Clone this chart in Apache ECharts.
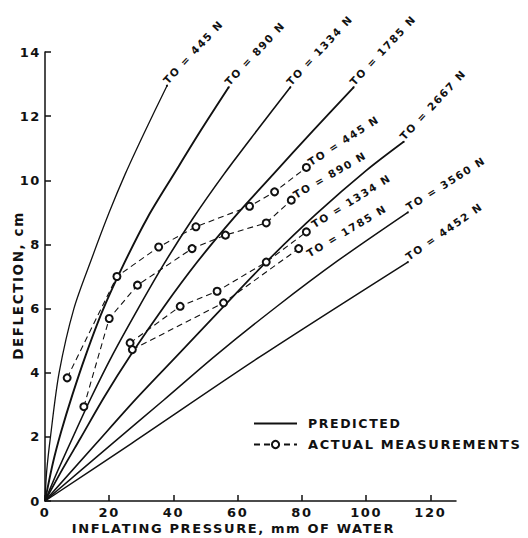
<!DOCTYPE html>
<html>
<head>
<meta charset="utf-8">
<script src="https://cdn.jsdelivr.net/npm/echarts@6/dist/echarts.min.js"></script>
<style>
html, body { margin: 0; padding: 0; background: #fff; }
#chart { width: 528px; height: 538px; }
#chart text { letter-spacing: 1.6px; }
</style>
</head>
<body>
<div id="chart"></div>
<script>
// predicted curves: inflating pressure (mm of water) -> deflection (cm)
var p445 = [0, 0.5, 1.7, 4.4, 9, 14.7, 20, 25, 31, 38]
var d445 = [0, 0.9, 2.0, 4.0, 6.0, 7.6, 9.0, 10.2, 11.5, 12.95]
var p890 = [0, 2.5, 5, 8.5, 12.7, 18, 24.6, 32, 40.5, 48.5, 57.2]
var d890 = [0, 1.2, 2.15, 3.3, 4.55, 5.95, 7.4, 8.85, 10.25, 11.55, 12.9]
var p1334 = [0, 4, 8.5, 14.5, 21, 29, 37.1, 46, 55.8, 66, 76.4]
var d1334 = [0, 0.95, 1.95, 3.25, 4.55, 6.0, 7.4, 8.8, 10.2, 11.55, 12.9]
var p1785 = [0, 5.5, 11, 18.5, 26.7, 37, 47.4, 59, 71.2, 83.5, 96.1]
var d1785 = [0, 1.0, 1.95, 3.25, 4.55, 6.05, 7.45, 8.85, 10.2, 11.55, 12.9]
var p2667 = [0, 16, 28.5, 41.3, 55, 69.4, 84.5, 100, 111.7]
var d2667 = [0, 1.8, 3.2, 4.55, 6.0, 7.5, 8.95, 10.3, 11.2]
var p3560 = [0, 20.5, 37, 53.3, 72, 91.3, 113]
var d3560 = [0, 1.75, 3.15, 4.55, 6.05, 7.5, 9.0]
var p4452 = [0, 27, 67, 113]
var d4452 = [0, 1.8, 4.5, 7.45]

// actual measurements
var mp445 = [6.9, 22.4, 35.4, 47, 63.7, 71.5, 81.4]
var md445 = [3.84, 7.0, 7.92, 8.55, 9.19, 9.64, 10.4]
var mp890 = [12.1, 20, 28.8, 45.8, 56.2, 68.9, 76.7]
var md890 = [2.94, 5.69, 6.73, 7.87, 8.29, 8.67, 9.38]
var mp1334 = [26.5, 42.1, 53.6, 68.9, 81.4]
var md1334 = [4.93, 6.07, 6.54, 7.45, 8.39]
var mp1785 = [27.2, 55.6, 79]
var md1785 = [4.72, 6.18, 7.87]

var xTicks = [0, 20, 40, 60, 80, 100, 120]
var yTicks = [0, 2, 4, 6, 8, 10, 12, 14]

var font = 'DejaVu Sans'
var ink = '#111'

function pts (xs, ys) {
  return xs.map(function (x, i) { return [x, ys[i]] })
}

// label only on the last point of a curve
function withEndLabel (data, text, rot, off, hidden) {
  var last = data.length - 1
  return data.map(function (p, i) {
    if (i !== last) return p
    var item = {
      value: p,
      label: {
        show: true,
        formatter: text,
        position: 'right',
        distance: 1,
        rotate: rot,
        verticalAlign: 'bottom',
        offset: off,
        color: ink,
        fontFamily: font,
        fontWeight: 'bold',
        fontSize: 10.5
      }
    }
    if (hidden) {
      item.symbol = 'circle'
      item.symbolSize = 2
    }
    return item
  })
}

function predicted (xs, ys, text, rot, off, w) {
  return {
    name: 'PREDICTED',
    type: 'line',
    symbol: 'none',
    smooth: 0.3,
    z: 2,
    lineStyle: { color: ink, width: w },
    itemStyle: { color: ink },
    data: withEndLabel(pts(xs, ys), text, rot, off, true)
  }
}

function measured (xs, ys, text, rot, off) {
  return {
    name: 'ACTUAL MEASUREMENTS',
    type: 'line',
    symbol: 'emptyCircle',
    symbolSize: 7,
    z: 3,
    lineStyle: { color: ink, width: 1.1, type: [6, 4] },
    itemStyle: { color: ink, borderWidth: 1.2 },
    data: withEndLabel(pts(xs, ys), text, rot, off, false)
  }
}

var chart = echarts.init(document.getElementById('chart'), null, { renderer: 'svg' })

chart.setOption({
  animation: false,
  backgroundColor: '#fff',
  grid: { left: 45, right: 72, top: 52, bottom: 37, outerBoundsMode: 'none' },
  legend: {
    orient: 'vertical',
    left: 248,
    top: 412,
    itemWidth: 43,
    itemHeight: 9,
    itemGap: 8,
    selectedMode: false,
    data: [
      { name: 'PREDICTED', itemStyle: { opacity: 0 }, lineStyle: { width: 2 } },
      { name: 'ACTUAL MEASUREMENTS', textStyle: { fontSize: 13 } }
    ],
    textStyle: { color: ink, fontFamily: font, fontWeight: 'bold', fontSize: 12.5, padding: [0, 0, 0, 6] }
  },
  xAxis: {
    type: 'value',
    min: 0,
    max: 128,
    interval: 20,
    name: 'INFLATING PRESSURE, mm OF WATER',
    nameLocation: 'middle',
    nameGap: 21,
    nameMoveOverlap: false,
    nameTextStyle: { color: ink, fontFamily: font, fontWeight: 'bold', fontSize: 13, padding: [0, 34, 0, 0] },
    axisLine: { lineStyle: { color: ink, width: 1.5 } },
    axisTick: { inside: true, length: 6, customValues: xTicks, lineStyle: { color: ink, width: 1.5 } },
    axisLabel: { customValues: xTicks, color: ink, fontFamily: font, fontWeight: 'bold', fontSize: 13, margin: 5 },
    splitLine: { show: false }
  },
  yAxis: {
    type: 'value',
    min: 0,
    max: 14,
    interval: 2,
    name: 'DEFLECTION, cm',
    nameLocation: 'middle',
    nameRotate: 90,
    nameGap: 20,
    nameMoveOverlap: false,
    nameTextStyle: { color: ink, fontFamily: font, fontWeight: 'bold', fontSize: 13.5, padding: [0, 18, 0, 0] },
    axisLine: { show: true, lineStyle: { color: ink, width: 1.5 } },
    axisTick: { show: true, inside: true, length: 6, customValues: yTicks, lineStyle: { color: ink, width: 1.5 } },
    axisLabel: { color: ink, fontFamily: font, fontWeight: 'bold', fontSize: 13, margin: 4 },
    splitLine: { show: false }
  },
  series: [
    predicted(p445, d445, 'TO = 445 N', 47, [0, 0], 1.3),
    predicted(p890, d890, 'TO = 890 N', 47, [0, 0], 1.9),
    predicted(p1334, d1334, 'TO = 1334 N', 47, [0, 0], 1.6),
    predicted(p1785, d1785, 'TO = 1785 N', 47, [0, 0], 1.8),
    predicted(p2667, d2667, 'TO = 2667 N', 47, [0, 0], 1.7),
    predicted(p3560, d3560, 'TO = 3560 N', 32, [0, 0], 1.5),
    predicted(p4452, d4452, 'TO = 4452 N', 35, [0, 0], 1.5),
    measured(mp445, md445, 'TO = 445 N', 33, [0, 0]),
    measured(mp890, md890, 'TO = 890 N', 30, [0, 0]),
    measured(mp1334, md1334, 'TO = 1334 N', 32, [4, 0]),
    measured(mp1785, md1785, 'TO = 1785 N', 31, [0, 12])
  ]
})
</script>
</body>
</html>
